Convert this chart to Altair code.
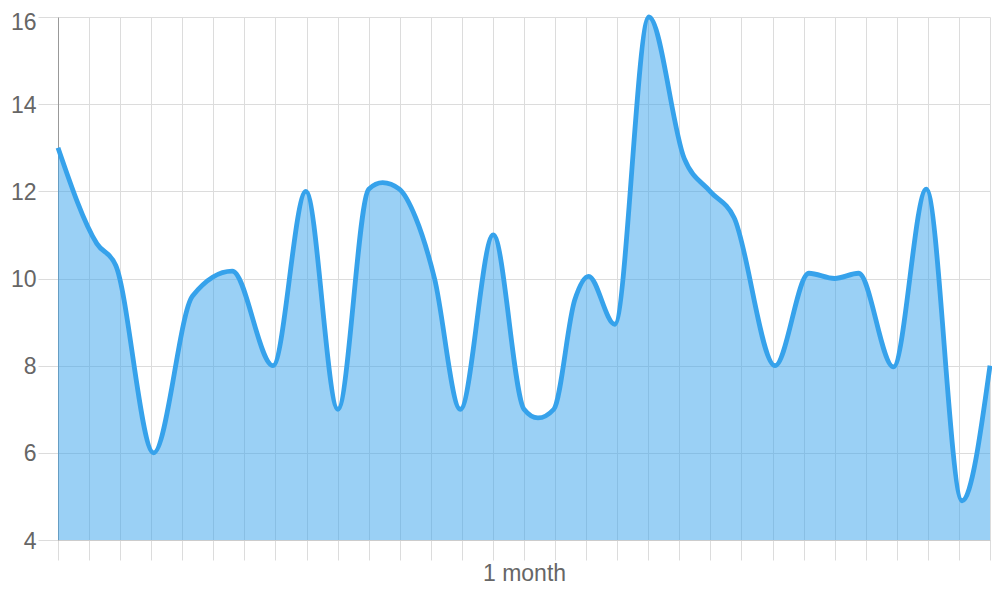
import altair as alt
import pandas as pd

# x position of each reading, in days along the one-month axis (0..30)
days = [0.0, 1.25, 1.86, 3.08, 4.33, 5.61, 6.92, 7.98, 9.01, 10.0, 10.45, 10.99,
        11.51, 12.12, 12.95, 14.01, 15.0, 15.45, 15.96, 16.63, 17.08, 17.92,
        19.02, 20.16, 20.99, 21.76, 23.08, 24.17, 25.0, 25.77, 26.89, 27.95,
        29.1, 30.0]
# readings
values = [13.0, 10.8, 10.3, 6.0, 9.6, 10.17, 8.0, 12.0, 7.0, 12.05, 12.2, 12.05,
          11.4, 10.0, 7.0, 11.0, 7.0, 6.8, 7.0, 9.5, 10.05, 8.95,
          16.0, 12.75, 12.0, 11.4, 8.0, 10.12, 10.0, 10.12, 7.97, 12.05,
          4.9, 8.0]
# axis ticks
x_ticks = list(range(0, 31))
y_ticks = [4, 6, 8, 10, 12, 14, 16]

df = pd.DataFrame({"day": days, "value": values})

BLUE = "#36A2EB"
GRID = "#dcdcdc"
FONT = "Liberation Sans"

x_enc = alt.X(
    "day:Q",
    scale=alt.Scale(domain=[0, 30], nice=False, zero=False),
    axis=alt.Axis(
        values=x_ticks,
        tickCount=31,
        labelExpr="datum.value == 15 ? '1 month' : ''",
        labelOverlap=False,
        title=None,
        grid=True,
        gridColor=GRID,
        tickColor=GRID,
        tickSize=20,
        domainColor="#cccccc",
        labelFont=FONT,
        labelFontSize=23,
        labelColor="#666666",
        labelPadding=2,
    ),
)
y_enc = alt.Y(
    "value:Q",
    scale=alt.Scale(domain=[4, 16], nice=False, zero=False),
    axis=alt.Axis(
        values=y_ticks,
        title=None,
        grid=True,
        gridColor=GRID,
        tickColor=GRID,
        tickSize=20,
        domainColor="#999999",
        labelFont=FONT,
        labelFontSize=23,
        labelColor="#666666",
        labelPadding=2,
        labelOffset={"condition": {"test": "datum.value == 16", "value": 5}, "value": 1},
    ),
)

base = alt.Chart(df).encode(x=x_enc, y=y_enc)

area = base.mark_area(
    interpolate="monotone", color=BLUE, opacity=0.5
).encode(y2=alt.datum(4))

line = base.mark_line(
    interpolate="monotone", color=BLUE, strokeWidth=4.8
)

chart = (
    alt.layer(area, line)
    .properties(
        width=932,
        height=523,
        autosize="none",
        padding={"left": 50, "top": 9, "right": 2, "bottom": 52},
    )
    .configure_view(stroke=None)
)

chart.save("out.html", embed_options={"renderer": "svg", "actions": False})
